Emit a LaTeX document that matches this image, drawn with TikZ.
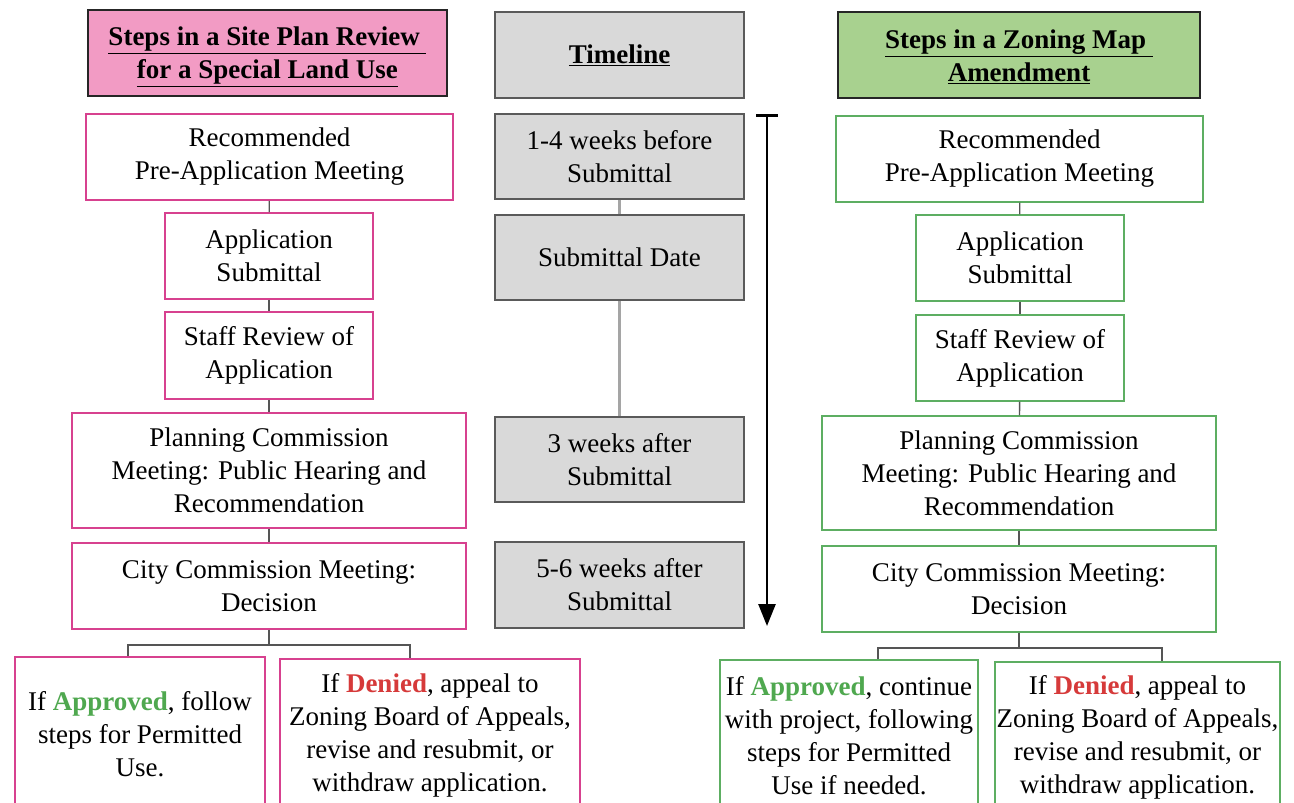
\documentclass[tikz,border=0pt]{standalone}
\usepackage{fontspec}
\setmainfont{Liberation Serif}
\usetikzlibrary{arrows.meta}
\definecolor{pinkfill}{HTML}{F29BC4}
\definecolor{pinkline}{HTML}{D7418F}
\definecolor{greenfill}{HTML}{A8D18F}
\definecolor{greenline}{HTML}{5DAE62}
\definecolor{grayfill}{HTML}{D9D9D9}
\definecolor{grayline}{HTML}{5A5A5A}
\definecolor{okgreen}{HTML}{4FA84F}
\definecolor{nored}{HTML}{D63A3A}
\definecolor{linkgray}{HTML}{555555}
\definecolor{tlgray}{HTML}{A5A5A5}
\newcommand{\okw}{\textcolor{okgreen}{\textbf{Approved}}}
\newcommand{\now}{\textcolor{nored}{\textbf{Denied}}}
\begin{document}
\begin{tikzpicture}[x=1pt,y=-1pt,
  base/.style={inner sep=0pt, align=center, font=\fontsize{27}{33}\selectfont},
  headbox/.style={base, draw=black!85, line width=1.6pt},
  headtext/.style={base, font=\fontsize{27}{33}\selectfont\bfseries},
  pinkbox/.style={base, draw=pinkline, line width=1.6pt, fill=white},
  greenbox/.style={base, draw=greenline, line width=1.4pt, fill=white},
  tlbox/.style={base, draw=grayline, line width=1.6pt, fill=grayfill, minimum width=249pt},
  link/.style={draw=linkgray, line width=1.4pt},
  tllink/.style={draw=tlgray, line width=3pt}]
\useasboundingbox (0,0) rectangle (1294,803);
\fill[white] (0,0) rectangle (1294,803);

% headers
\node[headbox, fill=pinkfill, minimum width=359pt, minimum height=86pt] (lh) at (267.5,53) {};
\node[headtext] (lht) at ([yshift=-4pt]lh.center)
  {\underline{Steps in a Site Plan Review\ }\\\underline{for a Special Land Use}};
\node[headbox, fill=grayfill, draw=grayline, minimum width=249pt, minimum height=86pt] (th) at (619.5,55) {};
\node[headtext] (tht) at (th.center) {\underline{Timeline}};
\node[headbox, fill=greenfill, minimum width=362pt, minimum height=86pt] (rh) at (1019,55) {};
\node[headtext] (rht) at ([yshift=-2pt]rh.center)
  {\underline{Steps in a Zoning Map\ }\\\underline{Amendment}};

% left column
\node[pinkbox, minimum width=367pt, minimum height=86pt] (lrec) at (269.5,157)
  {Recommended\\Pre-Application Meeting};
\node[pinkbox, minimum width=208pt, minimum height=86pt] (lapp) at (269,256)
  {Application\\Submittal};
\node[pinkbox, minimum width=208pt, minimum height=87pt] (lstaff) at (269,355.5)
  {Staff Review of\\Application};
\node[pinkbox, minimum width=394pt, minimum height=115pt] (lplan) at (269,470.5)
  {Planning Commission\\Meeting: Public Hearing and\\Recommendation};
\node[pinkbox, minimum width=394pt, minimum height=86pt] (lcity) at (269,586)
  {City Commission Meeting:\\Decision};
\node[pinkbox, minimum width=250pt, minimum height=155pt] (lyes) at (140,734.5)
  {If \okw, follow\\steps for Permitted\\Use.};
\node[pinkbox, minimum width=300pt, minimum height=153pt] (lno) at (430,735.5)
  {If \now, appeal to\\Zoning Board of Appeals,\\revise and resubmit, or\\withdraw application.};

% timeline column
\node[tlbox, minimum height=85pt] (t1) at (619.5,156.5) {1-4 weeks before\\Submittal};
\node[tlbox, minimum height=85pt] (t2) at (619.5,257.5) {Submittal Date};
\node[tlbox, minimum height=85pt] (t3) at (619.5,459.5) {3 weeks after\\Submittal};
\node[tlbox, minimum height=86pt] (t4) at (619.5,585) {5-6 weeks after\\Submittal};

% right column
\node[greenbox, minimum width=367pt, minimum height=86pt] (rrec) at (1019.5,159)
  {Recommended\\Pre-Application Meeting};
\node[greenbox, minimum width=208pt, minimum height=86pt] (rapp) at (1020,258)
  {Application\\Submittal};
\node[greenbox, minimum width=208pt, minimum height=86pt] (rstaff) at (1020,358)
  {Staff Review of\\Application};
\node[greenbox, minimum width=394pt, minimum height=114pt] (rplan) at (1019,473)
  {Planning Commission\\Meeting: Public Hearing and\\Recommendation};
\node[greenbox, minimum width=394pt, minimum height=86pt] (rcity) at (1019,589)
  {City Commission Meeting:\\Decision};
\node[greenbox, minimum width=258pt, minimum height=152pt] (ryes) at (849,736)
  {If \okw, continue\\with project, following\\steps for Permitted\\Use if needed.};
\node[greenbox, minimum width=285pt, minimum height=150pt] (rno) at (1137.5,737)
  {If \now, appeal to\\Zoning Board of Appeals,\\revise and resubmit, or\\withdraw application.};

% left links
\draw[link] (lrec) -- (lapp);
\draw[link] (lapp) -- (lstaff);
\draw[link] (lstaff) -- (lplan);
\draw[link] (lplan) -- (lcity);
\coordinate (lj) at (269,645);
\draw[link] (lcity.south) -- (lj);
\draw[link] ([xshift=-12pt]lyes.north) |- (lj) -| ([xshift=-20pt]lno.north);

% right links
\draw[link] (rrec) -- (rapp);
\draw[link] (rapp) -- (rstaff);
\draw[link] (rstaff) -- (rplan);
\draw[link] (rplan) -- (rcity);
\coordinate (rj) at (1019,648);
\draw[link] (rcity.south) -- (rj);
\draw[link] ([xshift=29pt]ryes.north) |- (rj) -| ([xshift=24.5pt]rno.north);

% timeline links
\draw[tllink] (t1) -- (t2);
\draw[tllink] (t2) -- (t3);

% time arrow
\coordinate (atop) at (767,114);
\coordinate (abot) at (767,626);
\draw[line width=2.6pt, {Bar[width=22pt,line width=2.6pt]}-{Triangle[width=17pt,length=22pt]}] (atop) -- (abot);
\end{tikzpicture}
\end{document}
